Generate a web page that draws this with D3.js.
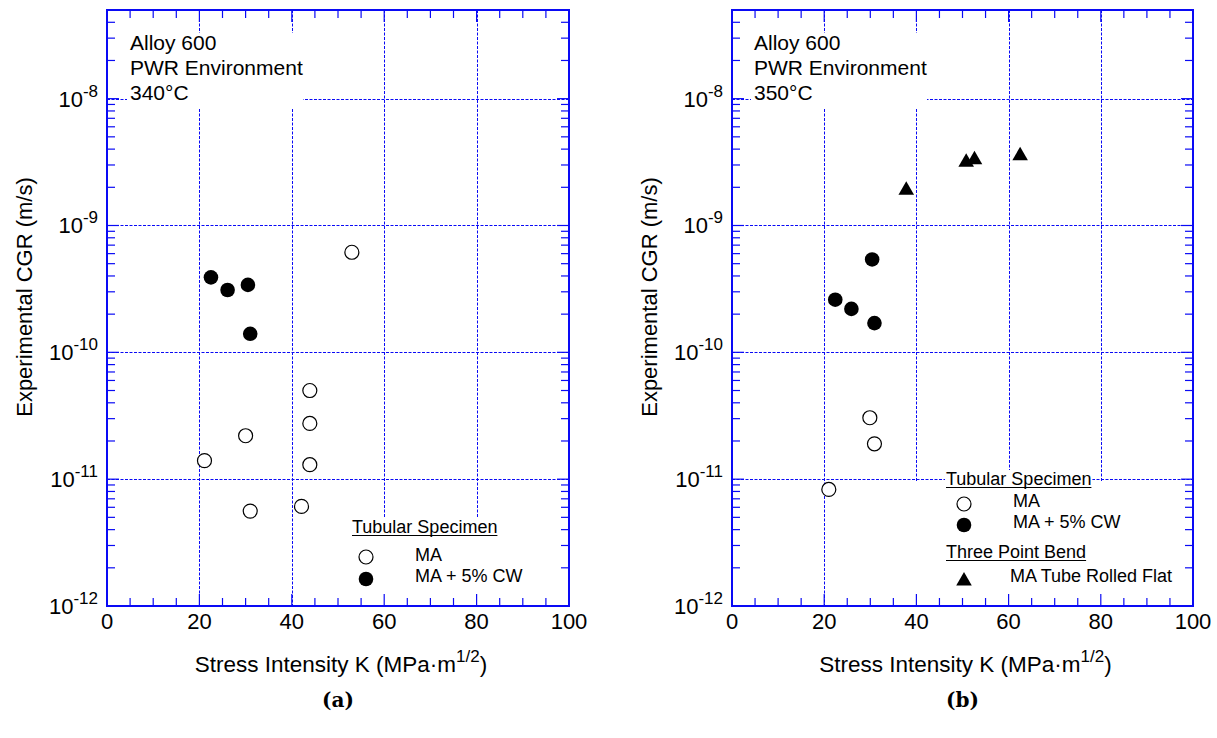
<!DOCTYPE html>
<html>
<head>
<meta charset="utf-8">
<script src="https://cdn.jsdelivr.net/npm/d3@7"></script>
<style>
  html, body { margin: 0; padding: 0; background: #fff; }
  svg { display: block; }
  text { font-family: "Liberation Sans", Arial, Helvetica, sans-serif; fill: #000; }
</style>
</head>
<body>
<svg id="chart" width="1217" height="738"></svg>
<script>
// Axis ticks shared by both panels
const kTicks = [0, 20, 40, 60, 80, 100];
const cgrTicks = [1e-12, 1e-11, 1e-10, 1e-9, 1e-8];

// (a) 340 °C — tubular specimens
const maK340 = [53.0, 43.9, 43.9, 30.0, 21.1, 43.9, 31.0, 42.1];
const maCGR340 = [6.15e-10, 5.0e-11, 2.75e-11, 2.2e-11, 1.4e-11, 1.3e-11, 5.6e-12, 6.1e-12];
const cwK340 = [22.5, 26.1, 30.5, 31.0];
const cwCGR340 = [3.9e-10, 3.1e-10, 3.4e-10, 1.4e-10];

// (b) 350 °C — tubular specimens and three point bend
const maK350 = [29.9, 30.9, 21.0];
const maCGR350 = [3.05e-11, 1.9e-11, 8.3e-12];
const cwK350 = [22.4, 25.9, 30.4, 30.9];
const cwCGR350 = [2.6e-10, 2.2e-10, 5.4e-10, 1.7e-10];
const tpbK350 = [37.8, 50.8, 52.6, 62.5];
const tpbCGR350 = [1.9e-9, 3.15e-9, 3.3e-9, 3.55e-9];

const BLUE = "#0a0af5";
const svg = d3.select("#chart");

function zip(ks, vs) { return ks.map((k, i) => ({ k, v: vs[i] })); }

function panel(cfg) {
  const g = svg.append("g");
  const x = d3.scaleLinear().domain([0, 100]).range([cfg.left, cfg.right]);
  const y = d3.scaleLog().domain([1e-12, 5e-8]).range([606, 10]);
  const top = y.range()[1], bottom = y.range()[0];

  // grid
  const grid = g.append("g").attr("stroke", BLUE).attr("fill", "none")
    .attr("stroke-width", 1).attr("stroke-dasharray", "3,1.5");
  grid.selectAll("line.gx").data(kTicks.slice(1, -1)).join("line")
    .attr("x1", d => Math.round(x(d)) + 0.5).attr("x2", d => Math.round(x(d)) + 0.5)
    .attr("y1", top).attr("y2", bottom);
  grid.selectAll("line.gy").data(cgrTicks.slice(1)).join("line")
    .attr("x1", cfg.left).attr("x2", cfg.right)
    .attr("y1", d => Math.round(y(d)) + 0.5).attr("y2", d => Math.round(y(d)) + 0.5);

  // white panels behind annotation and legend
  g.append("rect").attr("x", cfg.noteX - 3).attr("y", 33)
    .attr("width", 176).attr("height", 75).attr("fill", "#fff");
  g.append("rect").attr("x", cfg.legBox[0]).attr("y", cfg.legBox[1])
    .attr("width", cfg.right - cfg.legBox[0] - 1).attr("height", bottom - cfg.legBox[1] - 1)
    .attr("fill", "#fff");

  // ticks (inward, on all four sides)
  const ticks = g.append("g").attr("stroke", BLUE).attr("stroke-width", 1.2);
  const kMinor = d3.range(5, 100, 5);
  ticks.selectAll("line.tb").data(kMinor).join("line")
    .attr("x1", d => x(d)).attr("x2", d => x(d))
    .attr("y1", bottom).attr("y2", d => bottom - (d % 20 === 0 ? 12 : 8));
  ticks.selectAll("line.tt").data(kMinor).join("line")
    .attr("x1", d => x(d)).attr("x2", d => x(d))
    .attr("y1", top).attr("y2", d => top + (d % 20 === 0 ? 12 : 8));
  const yMinor = [];
  for (let e = -12; e <= -8; e++) for (let m = 1; m <= 9; m++) {
    const v = m * Math.pow(10, e);
    if (v > 1e-12 && v <= 5e-8) yMinor.push({ v, major: m === 1 });
  }
  ticks.selectAll("line.tl").data(yMinor).join("line")
    .attr("x1", cfg.left).attr("x2", d => cfg.left + (d.major ? 12 : 8))
    .attr("y1", d => y(d.v)).attr("y2", d => y(d.v));
  ticks.selectAll("line.tr").data(yMinor).join("line")
    .attr("x1", cfg.right).attr("x2", d => cfg.right - (d.major ? 12 : 8))
    .attr("y1", d => y(d.v)).attr("y2", d => y(d.v));

  // frame
  g.append("rect").attr("x", cfg.left).attr("y", top)
    .attr("width", cfg.right - cfg.left).attr("height", bottom - top)
    .attr("fill", "none").attr("stroke", BLUE).attr("stroke-width", 2);

  // x tick labels
  g.selectAll("text.xl").data(kTicks).join("text")
    .attr("x", d => x(d)).attr("y", 629).attr("text-anchor", "middle")
    .attr("font-size", 22).text(d => d);

  // y tick labels 10^n
  const yl = g.selectAll("text.yl").data(cgrTicks).join("text")
    .attr("x", cfg.left - 9).attr("y", d => y(d) + 8).attr("text-anchor", "end")
    .attr("font-size", 22);
  yl.append("tspan").text("10");
  yl.append("tspan").attr("font-size", 17).attr("dy", -10)
    .text(d => String(Math.round(Math.log10(d))));

  // axis titles
  const xt = g.append("text").attr("x", (cfg.left + cfg.right) / 2 + 3).attr("y", 672)
    .attr("text-anchor", "middle").attr("font-size", 22.5);
  xt.append("tspan").text("Stress Intensity K (MPa\u00b7m");
  xt.append("tspan").attr("font-size", 17).attr("dy", -10).text("1/2");
  xt.append("tspan").attr("dy", 10).text(")");
  g.append("text").attr("transform", `translate(${cfg.left - 75},297) rotate(-90)`)
    .attr("text-anchor", "middle").attr("font-size", 22).text("Experimental CGR (m/s)");

  // annotation
  ["Alloy 600", "PWR Environment", cfg.temp].forEach((t, i) => {
    g.append("text").attr("x", cfg.noteX).attr("y", 50 + i * 25)
      .attr("font-size", 21).text(t);
  });

  // data marks
  const pts = g.append("g");
  cfg.series.forEach(s => {
    pts.selectAll(null).data(zip(s.k, s.v)).join("path")
      .attr("transform", d => `translate(${x(d.k)},${y(d.v)})`)
      .attr("d", d3.symbol().type(s.shape).size(s.size))
      .attr("fill", s.fill).attr("stroke", "#000").attr("stroke-width", s.fill === "#fff" ? 1.2 : 0);
  });

  // legend
  const lg = g.append("g");
  cfg.legend.forEach(item => {
    if (item.head) {
      const bg = lg.append("rect").attr("fill", "#fff");
      const t = lg.append("text").attr("x", item.x).attr("y", item.y)
        .attr("font-size", 18).text(item.head);
      const w = t.node().getComputedTextLength();
      bg.attr("x", item.x - 1).attr("y", item.y - 15).attr("width", w + 2).attr("height", 20);
      lg.append("line").attr("x1", item.x).attr("x2", item.x + w)
        .attr("y1", item.y + 2.5).attr("y2", item.y + 2.5)
        .attr("stroke", "#000").attr("stroke-width", 1);
    } else {
      lg.append("path").attr("transform", `translate(${item.sx},${item.sy})`)
        .attr("d", d3.symbol().type(item.s.shape).size(item.s.size))
        .attr("fill", item.s.fill).attr("stroke", "#000")
        .attr("stroke-width", item.s.fill === "#fff" ? 1.2 : 0);
      lg.append("text").attr("x", item.x).attr("y", item.y)
        .attr("font-size", 18).text(item.label);
    }
  });

  // caption
  svg.append("text").attr("x", (cfg.left + cfg.right) / 2).attr("y", 707)
    .attr("text-anchor", "middle").attr("font-size", 20).attr("font-weight", "bold")
    .style("font-family", "'DejaVu Serif', 'Liberation Serif', serif")
    .text(cfg.caption);
}

const openC = { shape: d3.symbolCircle, size: Math.PI * 7 * 7, fill: "#fff" };
const fillC = { shape: d3.symbolCircle, size: Math.PI * 7.3 * 7.3, fill: "#000" };
const tri = { shape: d3.symbolTriangle, size: 105, fill: "#000" };

panel({
  left: 107, right: 569, noteX: 130, temp: "340\u00b0C", caption: "(a)",
  legBox: [340, 518],
  series: [
    Object.assign({ k: maK340, v: maCGR340 }, openC),
    Object.assign({ k: cwK340, v: cwCGR340 }, fillC)
  ],
  legend: [
    { head: "Tubular Specimen", x: 352, y: 533 },
    { s: openC, sx: 366, sy: 557, x: 415, y: 561, label: "MA" },
    { s: fillC, sx: 366, sy: 579, x: 415, y: 582, label: "MA + 5% CW" }
  ]
});

panel({
  left: 732, right: 1193, noteX: 754, temp: "350\u00b0C", caption: "(b)",
  legBox: [905, 481],
  series: [
    Object.assign({ k: maK350, v: maCGR350 }, openC),
    Object.assign({ k: cwK350, v: cwCGR350 }, fillC),
    Object.assign({ k: tpbK350, v: tpbCGR350 }, tri)
  ],
  legend: [
    { head: "Tubular Specimen", x: 946, y: 485 },
    { s: openC, sx: 964, sy: 504, x: 1013, y: 507, label: "MA" },
    { s: fillC, sx: 964, sy: 525, x: 1013, y: 528, label: "MA + 5% CW" },
    { head: "Three Point Bend", x: 946, y: 558 },
    { s: tri, sx: 964, sy: 581, x: 1010, y: 582, label: "MA Tube Rolled Flat" }
  ]
});
</script>
</body>
</html>
